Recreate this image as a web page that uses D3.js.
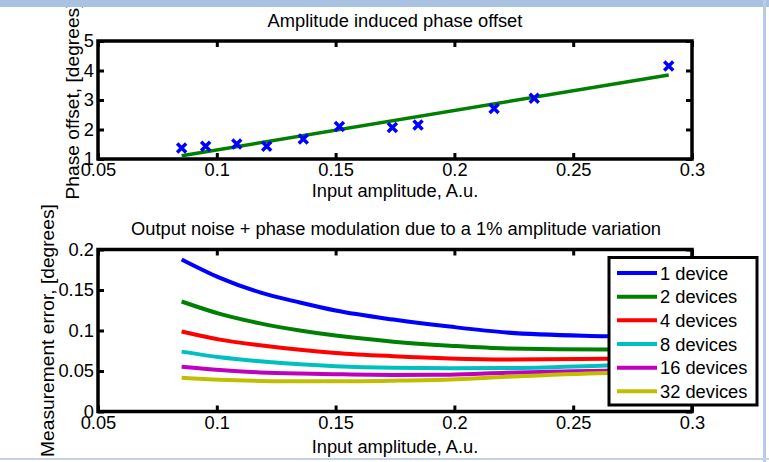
<!DOCTYPE html>
<html>
<head>
<meta charset="utf-8">
<script src="https://cdn.jsdelivr.net/npm/d3@7"></script>
<style>
html,body{margin:0;padding:0;background:#fff;}
svg{display:block;}
text{font-family:"Liberation Sans",Arial,Helvetica,sans-serif;fill:#000;}
</style>
</head>
<body>
<script>
// ---------- data ----------
const phaseX = [0.0852, 0.0953, 0.1084, 0.1210, 0.1364, 0.1516, 0.1739, 0.1847, 0.2167, 0.2336, 0.2902];
const phaseY = [1.37, 1.43, 1.51, 1.43, 1.68, 2.10, 2.07, 2.15, 2.71, 3.06, 4.15];
const fitX = [0.0852, 0.2902];
const fitY = [1.11, 3.85];

const ampX = [0.0852, 0.1013, 0.1182, 0.1350, 0.1500, 0.1743, 0.1980, 0.2220, 0.2640, 0.2900];
const err1  = [0.1877, 0.1650, 0.1470, 0.1345, 0.1246, 0.1135, 0.1048, 0.0975, 0.0928, 0.0910];
const err2  = [0.1358, 0.1205, 0.1088, 0.1000, 0.0937, 0.0862, 0.0813, 0.0778, 0.0764, 0.0765];
const err4  = [0.0987, 0.0887, 0.0818, 0.0762, 0.0723, 0.0683, 0.0655, 0.0642, 0.0652, 0.0660];
const err8  = [0.0739, 0.0670, 0.0620, 0.0584, 0.0560, 0.0540, 0.0535, 0.0537, 0.0569, 0.0590];
const err16 = [0.0553, 0.0512, 0.0483, 0.0468, 0.0460, 0.0452, 0.0455, 0.0478, 0.0504, 0.0520];
const err32 = [0.0417, 0.0392, 0.0378, 0.0372, 0.0372, 0.0380, 0.0395, 0.0428, 0.0475, 0.0490];
const seriesNames = ["1 device", "2 devices", "4 devices", "8 devices", "16 devices", "32 devices"];
const seriesColors = ["#0000ff", "#008000", "#ff0000", "#00bfbf", "#bf00bf", "#bfbf00"];

const xTicks = [0.05, 0.1, 0.15, 0.2, 0.25, 0.3];
const xTickLabels = ["0.05", "0.1", "0.15", "0.2", "0.25", "0.3"];
const yTicksTop = [1, 2, 3, 4, 5];
const yTickLabelsTop = ["1", "2", "3", "4", "5"];
const yTicksBot = [0, 0.05, 0.1, 0.15, 0.2];
const yTickLabelsBot = ["0", "0.05", "0.1", "0.15", "0.2"];

const title1 = "Amplitude induced phase offset";
const title2 = "Output noise + phase modulation due to a 1% amplitude variation";
const xLabel = "Input amplitude, A.u.";
const yLabel1 = "Phase offset, [degrees]";
const yLabel2 = "Measurement error, [degrees]";

// ---------- drawing ----------
const W = 769, H = 462, FS = 18.3, FSV = 19.2;
const svg = d3.select("body").append("svg").attr("width", W).attr("height", H);

const L = 98, R = 692;

function drawAxes(top, bottom, yDomain, yTicks, yLabels) {
  const x = d3.scaleLinear().domain([0.05, 0.3]).range([L, R]);
  const y = d3.scaleLinear().domain(yDomain).range([bottom, top]);
  const fmtX = d => xTickLabels[xTicks.indexOf(d)];
  const fmtY = d => yLabels[yTicks.indexOf(d)];
  const g = svg.append("g");
  const style = sel => {
    sel.select(".domain").remove();
    sel.selectAll(".tick line").attr("stroke", "#000").attr("stroke-width", 3);
    sel.selectAll("text").style("font-size", FS + "px").style("font-family", '"Liberation Sans",Arial,sans-serif').attr("fill", "#000");
  };
  g.append("g").attr("transform", `translate(0,${bottom})`)
    .call(d3.axisBottom(x).tickValues(xTicks).tickFormat(fmtX).tickSizeInner(-6).tickSizeOuter(0).tickPadding(4.5)).call(style);
  g.append("g").attr("transform", `translate(0,${top})`)
    .call(d3.axisTop(x).tickValues(xTicks).tickFormat("").tickSizeInner(-6).tickSizeOuter(0)).call(style);
  g.append("g").attr("transform", `translate(${L},0)`)
    .call(d3.axisLeft(y).tickValues(yTicks).tickFormat(fmtY).tickSizeInner(-6).tickSizeOuter(0).tickPadding(4)).call(style);
  g.append("g").attr("transform", `translate(${R},0)`)
    .call(d3.axisRight(y).tickValues(yTicks).tickFormat("").tickSizeInner(-6).tickSizeOuter(0)).call(style);
  g.append("rect").attr("x", L).attr("y", top).attr("width", R - L).attr("height", bottom - top)
    .attr("fill", "none").attr("stroke", "#000").attr("stroke-width", 3.5);
  return {x, y};
}

// ---- top plot ----
const tTop = 41, tBot = 159;
const A = drawAxes(tTop, tBot, [1, 5], yTicksTop, yTickLabelsTop);
svg.append("path")
  .datum(fitX.map((d, i) => [d, fitY[i]]))
  .attr("d", d3.line().x(d => A.x(d[0])).y(d => A.y(d[1])))
  .attr("fill", "none").attr("stroke", "#008000").attr("stroke-width", 3.5);
const ms = 4.5;
svg.append("g").selectAll("path").data(phaseX.map((d, i) => [d, phaseY[i]])).join("path")
  .attr("d", d => {
    const cx = A.x(d[0]), cy = A.y(d[1]);
    return `M${cx - ms},${cy - ms}L${cx + ms},${cy + ms}M${cx - ms},${cy + ms}L${cx + ms},${cy - ms}`;
  })
  .attr("stroke", "#0000ff").attr("stroke-width", 3.5).attr("fill", "none");

svg.append("text").attr("x", (L + R) / 2).attr("y", 26.5).attr("text-anchor", "middle").style("font-size", FS + "px").text(title1);
svg.append("text").attr("x", (L + R) / 2).attr("y", 197).attr("text-anchor", "middle").style("font-size", FS + "px").text(xLabel);
svg.append("text").attr("transform", `translate(79,${(tTop + tBot) / 2 + 1}) rotate(-90)`).attr("text-anchor", "middle").style("font-size", FSV + "px").text(yLabel1);

// ---- bottom plot ----
const bTop = 249.5, bBot = 411.5;
const B = drawAxes(bTop, bBot, [0, 0.2], yTicksBot, yTickLabelsBot);
const errSeries = [err1, err2, err4, err8, err16, err32];
const line = d3.line().x(d => B.x(d[0])).y(d => B.y(d[1])).curve(d3.curveMonotoneX);
svg.append("g").selectAll("path").data(errSeries).join("path")
  .attr("d", s => line(ampX.map((d, i) => [d, s[i]])))
  .attr("fill", "none").attr("stroke", (s, i) => seriesColors[i]).attr("stroke-width", 4);

svg.append("text").attr("x", (L + R) / 2 + 1).attr("y", 234.5).attr("text-anchor", "middle").style("font-size", FS + "px").text(title2);
svg.append("text").attr("x", (L + R) / 2).attr("y", 452.5).attr("text-anchor", "middle").style("font-size", FS + "px").text(xLabel);
svg.append("text").attr("transform", `translate(54,${(bTop + bBot) / 2}) rotate(-90)`).attr("text-anchor", "middle").style("font-size", FSV + "px").text(yLabel2);

// legend
const lg = svg.append("g");
lg.append("rect").attr("x", 609).attr("y", 257.5).attr("width", 148).attr("height", 147.5)
  .attr("fill", "#fff").attr("stroke", "#000").attr("stroke-width", 3);
const rowY = d3.scaleLinear().domain([0, 5]).range([273, 391.3]);
seriesNames.forEach((n, i) => {
  lg.append("line").attr("x1", 617).attr("x2", 657).attr("y1", rowY(i)).attr("y2", rowY(i))
    .attr("stroke", seriesColors[i]).attr("stroke-width", 4);
  lg.append("text").attr("x", 660).attr("y", rowY(i)).attr("dy", "0.36em").style("font-size", FS + "px").text(n);
});

// window frame decorations (drawn last, over the clipped label)
svg.append("rect").attr("x", 0).attr("y", 0).attr("width", W).attr("height", 7).attr("fill", "#a9c2e2");
svg.append("rect").attr("x", 763).attr("y", 0).attr("width", 3).attr("height", H).attr("fill", "#b7cce6");
svg.append("rect").attr("x", 0).attr("y", 458).attr("width", W).attr("height", 2).attr("fill", "#c6d3e1");
</script>
</body>
</html>
